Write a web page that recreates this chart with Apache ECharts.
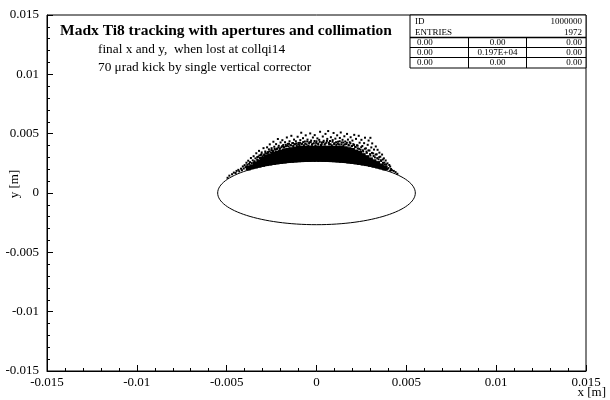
<!DOCTYPE html>
<html>
<head>
<meta charset="utf-8">
<script src="https://cdn.jsdelivr.net/npm/echarts@6/dist/echarts.min.js"></script>
<style>
html, body { margin: 0; padding: 0; background: #fff; }
#chart { width: 610px; height: 400px; }
</style>
</head>
<body>
<div id="chart"></div>
<script>
// axis range (m)
var axisMin = -0.015;
var axisMax = 0.015;
var axisStep = 0.005;

// aperture ellipse: centre x, centre y, half-width, half-height (m)
var aperture = [0, 0, 0.0055, 0.00267];

// dense part of the lost particles, read column by column (units of 1e-4 m)
var coreX = [-38, -36, -34, -32, -30, -28, -26, -24, -22, -20, -18, -16, -14, -12, -10, -8, -6, -4, -2,
             0, 2, 4, 6, 8, 10, 12, 14, 16, 18, 20, 22, 24, 26, 28, 30, 32, 34, 36, 38];
var coreY = [
  [21.1], [22.1], [22.8, 24.5], [23.5, 26.3], [24.2, 26.4, 28.6], [24.8, 27.5, 30.1], [25.3, 28.3, 31.3],
  [25.8, 28.0, 30.3, 32.5], [26.3, 28.7, 31.1, 33.5], [26.7, 29.2, 31.8, 34.3], [27.0, 29.8, 32.5, 35.3],
  [27.4, 30.2, 33.1, 35.9], [27.6, 30.6, 33.5, 36.5], [27.9, 31.0, 34.0, 37.1], [28.1, 31.2, 34.4, 37.5],
  [28.2, 31.4, 34.6, 37.8], [28.3, 31.5, 34.6, 37.8], [28.4, 31.5, 34.7, 37.8], [28.5, 31.6, 34.7, 37.8],
  [28.5, 31.6, 34.7, 37.8], [28.5, 31.6, 34.7, 37.8], [28.4, 31.5, 34.7, 37.8], [28.3, 31.5, 34.6, 37.8],
  [28.2, 31.4, 34.6, 37.8], [28.1, 31.3, 34.6, 37.8], [27.9, 31.2, 34.5, 37.8], [27.6, 31.0, 34.4, 37.8],
  [27.4, 30.7, 34.0, 37.3], [27.0, 30.2, 33.3, 36.5], [26.7, 29.7, 32.8, 35.8], [26.3, 29.0, 31.8, 34.5],
  [25.8, 28.3, 30.8, 33.3], [25.3, 28.4, 31.5], [24.8, 27.3, 29.8], [24.2, 26.1, 27.9], [23.5, 26.3],
  [22.8, 24.8], [22.0, 22.8], [21.1]
];

// lost particles just above the dense part [x, y] (units of 1e-4 m)
var edgePts = [
  [-33, 30.2], [-31.8, 31.6], [-30.6, 32.8], [-29.2, 31.9], [-28.4, 34.1], [-27.2, 33.2], [-26.2, 35.1],
  [-25.1, 36.2], [-24.2, 35.3], [-23.3, 37.3], [-22.1, 36.8], [-21.2, 38.4], [-20.3, 37.6], [-19.1, 39.5],
  [-18.2, 38.8], [-17.1, 40.6], [-16.2, 39.8], [-15.3, 41.5], [-14.2, 40.1], [-13.1, 42.1], [-12.3, 40.9],
  [-11.2, 41.8], [-10.1, 40.8], [-9.2, 42.3], [-8.3, 41.2], [-7.4, 42.9], [-6.3, 41.5], [-5.2, 43.4],
  [-4.1, 41.8], [-3.2, 42.9], [-2.3, 41.3], [-1.1, 43.8], [-0.2, 42.2], [0.9, 41.6], [1.8, 43.1],
  [2.9, 41.2], [3.8, 42.8], [4.9, 41.6], [5.8, 43.9], [6.9, 42.4], [7.8, 41.1], [8.9, 43.2], [9.8, 41.3],
  [10.9, 42.8], [11.8, 41.5], [12.9, 43.6], [13.8, 41], [14.9, 42.6], [15.8, 41], [16.9, 42.4], [17.8, 40.6],
  [18.9, 41.8], [19.8, 39.6], [20.9, 40.5], [21.8, 38.6], [22.9, 39.9], [23.8, 37.2], [24.9, 38.6],
  [25.8, 36], [26.9, 37.3], [27.8, 34.9], [28.9, 35.9], [29.8, 32.8], [30.9, 33.8], [31.8, 31.2],
  [32.9, 32.4], [33.8, 29.4], [34.9, 30.2], [35.8, 27.6], [36.9, 28.2], [37.8, 25.6], [38.8, 24.1]
];

// sparse lost particles further out [x, y] (units of 1e-4 m)
var haloPts = [
  [-49.5, 12.8], [-48.5, 14.6], [-47, 15.8], [-46, 17.2], [-45, 16.8], [-44.5, 18.6], [-43.5, 19.5], [-43, 18.2],
  [-42, 20.5], [-41.5, 19.2], [-41, 22.4], [-40.5, 20.6], [-40, 23.5], [-39.5, 21.8],
  [-39, 25.5], [-38.5, 23.8], [-38, 27.2], [-37.5, 24.6], [-37, 26], [-36.5, 29.5], [-36, 25.2], [-35.5, 27.5],
  [-35, 31], [-34.5, 26.8], [-34, 29.2], [-33.5, 33.5], [-33, 28.2], [-32.5, 30.5], [-32, 35.5], [-31.5, 29.5],
  [-31, 32], [-30.5, 34.2], [-30, 31], [-29.5, 37.8], [-29, 32.6],
  [-28.5, 35], [-28, 33.2], [-27.5, 38.5], [-27, 34.5], [-26.5, 36.8], [-26, 41], [-25.5, 34.2], [-25, 37.8],
  [-24.5, 35.8], [-24, 43.2], [-23.5, 39], [-23, 36.5], [-22.5, 41.2], [-22, 37.4], [-21.5, 45.5], [-21, 39.8],
  [-20.5, 37.2], [-20, 42.6],
  [-19.5, 38.6], [-19, 44.5], [-18.5, 40.5], [-18, 38.2], [-17.5, 42.8], [-17, 39.4], [-16.5, 46.8], [-16, 41.4],
  [-15.5, 39.2], [-15, 43.6], [-14.5, 40.4], [-14, 48.2], [-13.5, 42], [-13, 39.6], [-12.5, 45], [-12, 41.2],
  [-11.5, 43.6], [-11, 40.2], [-10.5, 47.4], [-10, 42.2],
  [-9.5, 40.4], [-9, 44.6], [-8.5, 50.8], [-8, 41.6], [-7.5, 46.2], [-7, 40.2], [-6.5, 43.4], [-6, 48.6],
  [-5.5, 41], [-5, 45], [-4.5, 39.8], [-4, 42.8], [-3.5, 50.2], [-3, 44.2], [-2.5, 40.6], [-2, 46.8],
  [-1.5, 42], [-1, 48.8], [-0.5, 40.2], [0, 43.6],
  [0.5, 46], [1, 41], [1.5, 44.8], [2, 51.6], [2.5, 40.4], [3, 42.6], [3.5, 47.6], [4, 44], [4.5, 40.8],
  [5, 49.8], [5.5, 42.4], [6, 45.6], [6.5, 52.2], [7, 41.2], [7.5, 43.8], [8, 47], [8.5, 40.2], [9, 44.6],
  [9.5, 50.6], [10, 42],
  [10.5, 45.8], [11, 40.6], [11.5, 48.6], [12, 43.2], [12.5, 41], [13, 46.4], [13.5, 51], [14, 42.6],
  [14.5, 44.8], [15, 40.2], [15.5, 47.8], [16, 43.4], [16.5, 41.2], [17, 49.8], [17.5, 45], [18, 40],
  [18.5, 42.8], [19, 47], [19.5, 39.4], [20, 44.2],
  [20.5, 41.2], [21, 49], [21.5, 38.8], [22, 45.6], [22.5, 40.2], [23, 37.6], [23.5, 48.2], [24, 42.4],
  [24.5, 36.4], [25, 44.8], [25.5, 39.6], [26, 35], [26.5, 42], [27, 46.6], [27.5, 37.6], [28, 33.8],
  [28.5, 40.6], [29, 44.2], [29.5, 35.8], [30, 46.5], [30, 31.6],
  [30.5, 38.4], [31, 41.8], [31.5, 33.4], [32, 36.6], [32.5, 30], [33, 39.2], [33.5, 32.6], [34, 36.4],
  [34.5, 28.4], [35, 34], [35.5, 30.6], [36, 27], [36.5, 32.4], [37, 25.4], [37.5, 29.2], [38, 24],
  [38.5, 27.4], [39, 22.2], [39.5, 25], [39.5, 20.2], [40, 21], [40.5, 23.6], [41, 18.8], [41, 22.3],
  [41.5, 20.2], [42, 19.2], [43, 18.6], [44, 17.6], [45, 16.2]
];

// statistics box
var statsId = '1000000';
var statsEntries = '1972';
var statsCells = [
  ['0.00', '0.00', '0.00'],
  ['0.00', '0.197E+04', '0.00'],
  ['0.00', '0.00', '0.00']
];

var titleText = 'Madx Ti8 tracking with apertures and collimation';
var subLines = ['final x and y,  when lost at collqi14', '70 \u03bcrad kick by single vertical corrector'];

var serif = "'Liberation Serif', 'Times New Roman', serif";

// 1e-4 m -> m
function toM(v) { return v * 1e-4; }

var corePts = [];
coreX.forEach(function (x, i) {
  coreY[i].forEach(function (y) { corePts.push([toM(x), toM(y)]); });
});
var lostPts = edgePts.concat(haloPts).map(function (p) { return [toM(p[0]), toM(p[1])]; });

function tickFmt(v) { return String(parseFloat(v.toFixed(4))); }

function makeAxis(margin) {
  return {
    type: 'value',
    min: axisMin,
    max: axisMax,
    interval: axisStep,
    axisLine: { show: true, onZero: false, lineStyle: { color: '#000', width: 1 } },
    axisTick: { show: true, inside: true, length: 6, lineStyle: { color: '#000' } },
    minorTick: { show: true, splitNumber: 5, length: 3, lineStyle: { color: '#000' } },
    splitLine: { show: false },
    axisLabel: {
      color: '#000', fontFamily: serif, fontSize: 13, margin: margin,
      showMinLabel: true, showMaxLabel: true, formatter: tickFmt
    }
  };
}

// statistics box graphics
var boxL = 410, boxR = 586, boxT = 15, boxB = 68;
var statsEls = [
  { type: 'rect', shape: { x: boxL, y: boxT, width: boxR - boxL, height: boxB - boxT },
    style: { fill: '#fff', stroke: '#000', lineWidth: 1 } },
  { type: 'line', shape: { x1: boxL, y1: 37.5, x2: boxR, y2: 37.5 }, style: { stroke: '#000', lineWidth: 1.5 } },
  { type: 'line', shape: { x1: boxL, y1: 47.5, x2: boxR, y2: 47.5 }, style: { stroke: '#000', lineWidth: 1 } },
  { type: 'line', shape: { x1: boxL, y1: 57.5, x2: boxR, y2: 57.5 }, style: { stroke: '#000', lineWidth: 1 } },
  { type: 'line', shape: { x1: 468.5, y1: 37.5, x2: 468.5, y2: boxB }, style: { stroke: '#000', lineWidth: 1 } },
  { type: 'line', shape: { x1: 526.5, y1: 37.5, x2: 526.5, y2: boxB }, style: { stroke: '#000', lineWidth: 1 } }
];
function boxText(txt, x, y, align) {
  return { type: 'text', x: x, y: y,
    style: { text: txt, font: '9px ' + serif, fill: '#000', textAlign: align, textVerticalAlign: 'middle' } };
}
statsEls.push(boxText('ID', 415, 21.5, 'left'));
statsEls.push(boxText(statsId, 582, 21.5, 'right'));
statsEls.push(boxText('ENTRIES', 415, 32.5, 'left'));
statsEls.push(boxText(statsEntries, 582, 32.5, 'right'));
var rowY = [42.8, 52.6, 62.6];
statsCells.forEach(function (row, r) {
  statsEls.push(boxText(row[0], 417, rowY[r], 'left'));
  statsEls.push(boxText(row[1], 497.5, rowY[r], 'center'));
  statsEls.push(boxText(row[2], 582, rowY[r], 'right'));
});

var otherEls = [
  { type: 'text', x: 60, y: 31,
    style: { text: titleText, font: 'bold 15.5px ' + serif, fill: '#000', textAlign: 'left', textVerticalAlign: 'middle' } },
  { type: 'text', x: 98, y: 50,
    style: { text: subLines[0], font: '13.3px ' + serif, fill: '#000', textAlign: 'left', textVerticalAlign: 'middle' } },
  { type: 'text', x: 98, y: 68,
    style: { text: subLines[1], font: '13.3px ' + serif, fill: '#000', textAlign: 'left', textVerticalAlign: 'middle' } },
  { type: 'text', x: 606, y: 393,
    style: { text: 'x [m]', font: '13px ' + serif, fill: '#000', textAlign: 'right', textVerticalAlign: 'middle' } },
  { type: 'text', x: 15, y: 184, rotation: Math.PI / 2,
    style: { text: 'y [m]', font: '13px ' + serif, fill: '#000', textAlign: 'center', textVerticalAlign: 'middle' } }
];

var chart = echarts.init(document.getElementById('chart'));

var option = {
  animation: false,
  backgroundColor: '#fff',
  grid: {
    left: 47, right: 24, top: 15, bottom: 29,
    containLabel: false, outerBoundsMode: 'none',
    show: true, borderColor: '#000', borderWidth: 1, backgroundColor: 'transparent'
  },
  xAxis: makeAxis(5),
  yAxis: makeAxis(8),
  graphic: {
    elements: otherEls.concat(statsEls).map(function (e) { e.z = 100; return e; })
  },
  series: [
    {
      name: 'aperture',
      type: 'custom',
      silent: true,
      data: [aperture],
      renderItem: function (params, api) {
        var c = api.coord([api.value(0), api.value(1)]);
        var s = api.size([api.value(2), api.value(3)]);
        return {
          type: 'ellipse',
          shape: { cx: c[0], cy: c[1], rx: s[0], ry: s[1] },
          style: { fill: 'none', stroke: '#000', lineWidth: 1 }
        };
      },
      z: 3
    },
    {
      name: 'lost (dense)',
      type: 'scatter',
      symbol: 'rect',
      symbolSize: 5,
      silent: true,
      itemStyle: { color: '#000', opacity: 1, borderWidth: 0 },
      data: corePts,
      z: 2
    },
    {
      name: 'lost',
      type: 'scatter',
      symbol: 'rect',
      symbolSize: 2,
      silent: true,
      itemStyle: { color: '#000', opacity: 1, borderWidth: 0 },
      data: lostPts,
      z: 2
    }
  ]
};

chart.setOption(option);
</script>
</body>
</html>
